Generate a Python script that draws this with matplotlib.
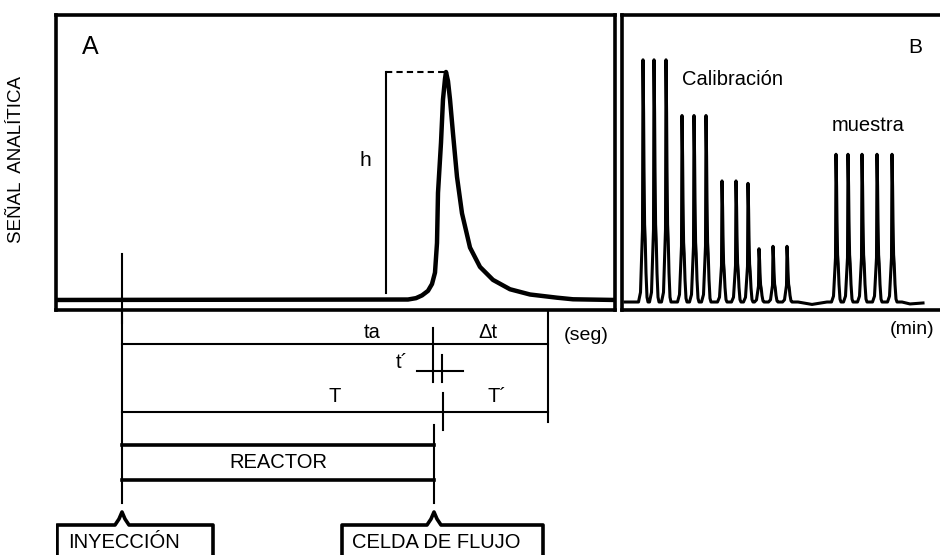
import matplotlib.pyplot as plt

plt.rcParams['font.family'] = ['Liberation Sans', 'DejaVu Sans']

# ---- Panel A: un pico FIA (tiempo en seg, señal normalizada a h = 1) ----
peak_t = [-6.6, 28.6, 29.4, 30.0, 30.6, 31.0, 31.3, 31.5, 31.6, 31.9, 32.1, 32.3, 32.4,
          32.6, 32.8, 33.1, 33.5, 34.0, 34.8, 35.8, 37.1, 38.8, 40.8, 43.5, 45.1, 49.3]
peak_s = [0.0, 0.002, 0.008, 0.02, 0.04, 0.07, 0.12, 0.25, 0.47, 0.69, 0.88, 0.97, 1.0,
          0.96, 0.88, 0.73, 0.54, 0.38, 0.23, 0.145, 0.088, 0.047, 0.024, 0.010, 0.003, 0.0]

t_iny = 0.0       # inyeccion
t_a = 31.1        # aparicion del pico (ta)
T = 32.0          # maximo del pico (T)
t_fin = 42.6      # vuelta a la linea base
t_reactor = 31.2  # llegada a la celda de flujo
t_h = 26.4        # posicion de la cota h

# ---- Panel B: calibracion y muestras (tiempo en min) ----
calib_pos = [2.1, 3.2, 4.4, 6.0, 7.2, 8.4, 10.0, 11.4, 12.6, 13.7, 15.1, 16.5]
calib_h = [1.0, 1.0, 1.0, 0.77, 0.77, 0.77, 0.50, 0.50, 0.49, 0.22, 0.23, 0.23]
muestra_pos = [21.4, 22.6, 24.0, 25.5, 27.0]
muestra_h = [0.61, 0.61, 0.61, 0.61, 0.61]
# forma de un pico estrecho
perfil_dt = [-0.45, -0.25, -0.05, 0.0, 0.06, 0.10, 0.16, 0.22, 0.30, 0.40, 0.50]
perfil_f = [0.0, 0.04, 0.30, 1.0, 0.78, 0.55, 0.32, 0.26, 0.12, 0.02, 0.0]
base_t = [0.3, 1.2, 17.6, 19.0, 20.5, 28.0, 28.8, 30.1]
base_s = [0.0, 0.0, 0.0, -0.01, 0.0, 0.0, -0.008, -0.004]

W, H = 940, 555
fig = plt.figure(figsize=(9.4, 5.55), dpi=100)


def rect(x0, x1, y0, y1):
    return [x0 / W, 1 - y1 / H, (x1 - x0) / W, (y1 - y0) / H]


# ---------------- panel A ----------------
axA = fig.add_axes(rect(56, 615, 15, 310))
axA.set_xlim(-6.6, 49.3)
axA.set_ylim(-0.044, 1.25)
axA.plot(peak_t, peak_s, color='black', lw=3.2, solid_joinstyle='round')
axA.plot([t_h, t_h], [0.03, 1.0], color='black', lw=1.5)
axA.plot([t_h, peak_t[peak_s.index(max(peak_s))]], [1.0, 1.0], color='black',
         lw=1.5, ls=(0, (3, 2)))
axA.plot([t_iny, t_iny], [0.2, -0.1], color='black', lw=1.5, clip_on=False)
axA.text(t_h - 2.1, 0.61, 'h', fontsize=15, ha='center', va='center')
axA.text(-3.2, 1.11, 'A', fontsize=18, ha='center', va='center')
axA.set_xticks([])
axA.set_yticks([])
for s in axA.spines.values():
    s.set_linewidth(2.6)

fig.text(17 / W, 1 - 160 / H, 'SEÑAL  ANALÍTICA', rotation=90, fontsize=13.5,
         ha='center', va='center')

# ---------------- panel B ----------------
axB = fig.add_axes(rect(622, 945, 15, 310))
axB.set_xlim(0, 32.3)
axB.set_ylim(-0.033, 1.185)
pts = list(zip(base_t, base_s))
for c, hgt in zip(calib_pos + muestra_pos, calib_h + muestra_h):
    for dt, f in zip(perfil_dt, perfil_f):
        pts.append((c + dt, hgt * f))
pts.sort(key=lambda p: p[0])
axB.plot([p[0] for p in pts], [p[1] for p in pts], color='black', lw=2.2)
axB.text(6.0, 0.92, 'Calibración', fontsize=14.5, ha='left', va='center')
axB.text(21.0, 0.73, 'muestra', fontsize=14.5, ha='left', va='center')
axB.text(29.3, 1.05, 'B', fontsize=15, ha='center', va='center')
axB.text(29.0, -0.115, '(min)', fontsize=14, ha='center', va='center', clip_on=False)
axB.set_xticks([])
axB.set_yticks([])
for s in axB.spines.values():
    s.set_linewidth(2.6)

# ---------------- esquema de tiempos ----------------
axL = fig.add_axes(rect(56, 615, 310, 555))
axL.set_xlim(axA.get_xlim())
axL.set_ylim(555, 310)
axL.axis('off')
k = dict(color='black', lw=1.5)

y_ta, y_tp, y_T = 344, 371, 412
y_rs, y_ri, y_fin = 445, 480, 503

axL.plot([t_iny, t_iny], [310, y_fin], **k)
axL.plot([t_iny, t_fin], [y_ta, y_ta], **k)
axL.plot([t_fin, t_fin], [312, 422], **k)
axL.plot([t_a, t_a], [328, 382], **k)
axL.plot([T, T], [355, 382], **k)
axL.plot([t_a - 1.6, T + 2.1], [y_tp, y_tp], **k)
axL.plot([T + 0.1, T + 0.1], [393, 430], **k)
axL.plot([t_iny, t_fin], [y_T, y_T], **k)
axL.plot([t_reactor, t_reactor], [425, y_fin], **k)
axL.plot([t_iny, t_reactor], [y_rs, y_rs], color='black', lw=2.6)
axL.plot([t_iny, t_reactor], [y_ri, y_ri], color='black', lw=2.6)

axL.text(25.0, 332, 'ta', fontsize=14.5, ha='center', va='center')
axL.text(36.6, 332, 'Δt', fontsize=14.5, ha='center', va='center')
axL.text(46.4, 335, '(seg)', fontsize=14, ha='center', va='center')
axL.text(28.0, 362, 't´', fontsize=14.5, ha='center', va='center')
axL.text(21.3, 397, 'T', fontsize=14.5, ha='center', va='center')
axL.text(37.5, 397, 'T´', fontsize=14.5, ha='center', va='center')
axL.text((t_iny + t_reactor) / 2, 463, 'REACTOR', fontsize=14.5, ha='center', va='center')


def caja(c, izq, der, texto, x_txt):
    xs = [izq, izq, c - 0.7, c - 0.3, c, c + 0.3, c + 0.7, der, der]
    ys = [570, 525, 525, 519, 512, 519, 525, 525, 570]
    axL.plot(xs, ys, color='black', lw=2.6)
    axL.text(x_txt, 543, texto, fontsize=14.5, ha='left', va='center')


caja(t_iny, -6.5, 9.1, 'INYECCIÓN', -5.4)
caja(t_reactor, 22.0, 42.1, 'CELDA DE FLUJO', 23.0)

fig.savefig('out.png', dpi=100)
